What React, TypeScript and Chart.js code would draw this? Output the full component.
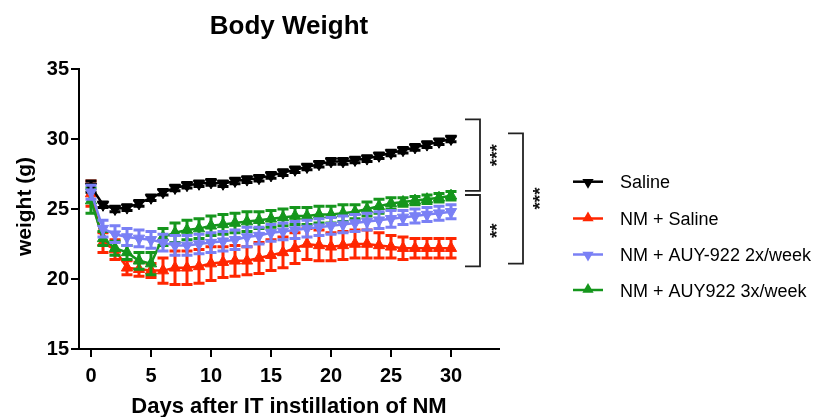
import React, { useEffect, useRef } from 'react';
import { Chart, registerables } from 'chart.js';

Chart.register(...registerables);

// ---------- data ----------
const days = [0, 1, 2, 3, 4, 5, 6, 7, 8, 9, 10, 11, 12, 13, 14, 15, 16, 17, 18, 19, 20, 21, 22, 23, 24, 25, 26, 27, 28, 29, 30];

const seriesLabels = ['Saline', 'NM + Saline', 'NM + AUY-922 2x/week', 'NM + AUY922 3x/week'];

const salineMean = [26.6, 25.3, 25.0, 25.1, 25.4, 25.8, 26.2, 26.5, 26.7, 26.8, 26.9, 26.8, 27.0, 27.1, 27.2, 27.4, 27.6, 27.8, 28.0, 28.2, 28.4, 28.4, 28.5, 28.6, 28.8, 29.0, 29.2, 29.4, 29.6, 29.8, 30.0];
const salineErr = [0.4, 0.2, 0.2, 0.2, 0.2, 0.2, 0.2, 0.2, 0.2, 0.2, 0.2, 0.2, 0.2, 0.2, 0.2, 0.2, 0.2, 0.2, 0.2, 0.2, 0.2, 0.2, 0.2, 0.2, 0.2, 0.2, 0.2, 0.2, 0.2, 0.2, 0.2];

const nmSalineMean = [26.1, 22.6, 22.1, 20.8, 20.7, 20.6, 20.6, 20.8, 20.8, 20.9, 21.1, 21.2, 21.3, 21.3, 21.5, 21.7, 21.9, 22.2, 22.5, 22.4, 22.3, 22.4, 22.5, 22.5, 22.4, 22.3, 22.2, 22.2, 22.2, 22.2, 22.2];
const nmSalineErr = [0.9, 0.7, 0.7, 0.5, 0.5, 0.5, 0.9, 1.2, 1.2, 1.2, 1.2, 1.1, 1.1, 1.0, 1.1, 1.1, 1.1, 1.1, 1.1, 1.1, 1.0, 1.0, 1.0, 1.0, 0.9, 0.8, 0.8, 0.7, 0.7, 0.7, 0.7];

const auy2xMean = [26.2, 23.6, 23.2, 23.0, 22.9, 22.8, 22.6, 22.4, 22.4, 22.5, 22.6, 22.7, 22.8, 23.0, 23.1, 23.3, 23.4, 23.5, 23.6, 23.7, 23.8, 23.9, 24.0, 24.1, 24.2, 24.3, 24.4, 24.5, 24.6, 24.7, 24.8];
const auy2xErr = [0.5, 0.6, 0.6, 0.6, 0.6, 0.6, 0.6, 0.7, 0.7, 0.7, 0.7, 0.7, 0.7, 0.7, 0.6, 0.6, 0.6, 0.6, 0.6, 0.6, 0.6, 0.6, 0.6, 0.6, 0.6, 0.6, 0.5, 0.5, 0.5, 0.5, 0.5];

const auy3xMean = [25.6, 22.9, 22.2, 21.9, 21.3, 21.1, 23.0, 23.3, 23.5, 23.6, 23.8, 23.9, 24.0, 24.1, 24.2, 24.3, 24.4, 24.5, 24.5, 24.6, 24.6, 24.7, 24.8, 25.0, 25.2, 25.4, 25.5, 25.6, 25.7, 25.8, 25.95];
const auy3xErr = [0.9, 0.5, 0.5, 0.5, 0.6, 0.8, 0.6, 0.7, 0.7, 0.7, 0.7, 0.7, 0.7, 0.7, 0.6, 0.6, 0.6, 0.6, 0.6, 0.6, 0.6, 0.6, 0.5, 0.5, 0.5, 0.4, 0.3, 0.3, 0.3, 0.3, 0.3];

const yTicks = [15, 20, 25, 30, 35];
const xTicks = [0, 5, 10, 15, 20, 25, 30];

const titleText = 'Body Weight';
const xTitleText = 'Days after IT instillation of NM';
const yTitleText = 'weight (g)';

// significance brackets: [top value, bottom value]
const bracketSpans = [[31.4, 26.3], [26.0, 20.9], [30.4, 21.1]];
const bracketStars = ['***', '**', '***'];

// ---------- styles ----------
const COLORS = ['#000000', '#ff2600', '#7a80f5', '#15961c'];
const DOWN = [true, false, true, false];
const FONT = '"Liberation Sans", Arial, Helvetica, sans-serif';

function drawTri(ctx: CanvasRenderingContext2D, x: number, y: number, r: number, down: boolean, color: string) {
  ctx.save();
  ctx.fillStyle = color;
  ctx.beginPath();
  const s = down ? -1 : 1;
  ctx.moveTo(x, y - s * r);
  ctx.lineTo(x + r * 0.866, y + s * r * 0.5);
  ctx.lineTo(x - r * 0.866, y + s * r * 0.5);
  ctx.closePath();
  ctx.fill();
  ctx.restore();
}

const overlayPlugin = {
  id: 'overlay',
  beforeDatasetDraw(chart: any, args: any) {
    const ds = chart.data.datasets[args.index];
    const err: number[] = ds.errorBars;
    if (!err) return;
    const ctx = chart.ctx;
    const yScale = chart.scales.y;
    ctx.save();
    ctx.strokeStyle = ds.borderColor;
    ctx.lineWidth = 3;
    args.meta.data.forEach((pt: any, j: number) => {
      const m = ds.data[j].y;
      const e = err[j];
      const yt = yScale.getPixelForValue(m + e);
      const yb = yScale.getPixelForValue(m - e);
      ctx.beginPath();
      ctx.moveTo(pt.x, yt);
      ctx.lineTo(pt.x, yb);
      ctx.moveTo(pt.x - 5.5, yt);
      ctx.lineTo(pt.x + 5.5, yt);
      ctx.moveTo(pt.x - 5.5, yb);
      ctx.lineTo(pt.x + 5.5, yb);
      ctx.stroke();
    });
    ctx.restore();
  },
  afterDraw(chart: any) {
    const ctx: CanvasRenderingContext2D = chart.ctx;
    const yScale = chart.scales.y;
    const xScale = chart.scales.x;
    ctx.save();
    ctx.fillStyle = '#000';
    // title
    ctx.font = `bold 26px ${FONT}`;
    ctx.textAlign = 'center';
    ctx.textBaseline = 'alphabetic';
    ctx.fillText(titleText, xScale.getPixelForValue(16.5), 34);
    // x title
    ctx.font = `bold 22px ${FONT}`;
    ctx.fillText(xTitleText, xScale.getPixelForValue(16.5), 413);
    // y title
    ctx.save();
    ctx.translate(31, 206.5);
    ctx.rotate(-Math.PI / 2);
    ctx.font = `bold 21px ${FONT}`;
    ctx.textAlign = 'center';
    ctx.fillText(yTitleText, 0, 0);
    ctx.restore();

    // brackets
    ctx.strokeStyle = '#222';
    ctx.lineWidth = 1.8;
    const bx = [[465, 480, 492], [465, 480, 492], [508, 523, 535]];
    bracketSpans.forEach((span, i) => {
      const yt = yScale.getPixelForValue(span[0]);
      const yb = yScale.getPixelForValue(span[1]);
      const [x0, x1, xs] = bx[i];
      ctx.beginPath();
      ctx.moveTo(x0, yt);
      ctx.lineTo(x1, yt);
      ctx.lineTo(x1, yb);
      ctx.lineTo(x0, yb);
      ctx.stroke();
      ctx.save();
      ctx.translate(xs, (yt + yb) / 2);
      ctx.rotate(-Math.PI / 2);
      ctx.font = `bold 19px ${FONT}`;
      ctx.fillStyle = '#111';
      ctx.textAlign = 'center';
      ctx.textBaseline = 'alphabetic';
      ctx.fillText(bracketStars[i], 0, 0.575 * 19);
      ctx.restore();
    });

    // legend
    const rowY = [181.7, 218.5, 254.5, 290];
    seriesLabels.forEach((lab, i) => {
      const cy = rowY[i];
      ctx.strokeStyle = COLORS[i];
      ctx.lineWidth = 2.5;
      ctx.beginPath();
      ctx.moveTo(573, cy);
      ctx.lineTo(603, cy);
      ctx.stroke();
      drawTri(ctx, 588, cy + (DOWN[i] ? 0.5 : -0.5), 6.5, DOWN[i], COLORS[i]);
      ctx.font = `18px ${FONT}`;
      ctx.fillStyle = '#000';
      ctx.textAlign = 'left';
      ctx.textBaseline = 'alphabetic';
      ctx.fillText(lab, 620, cy + 6.5);
    });
    ctx.restore();
  },
};

const means = [salineMean, nmSalineMean, auy2xMean, auy3xMean];
const errs = [salineErr, nmSalineErr, auy2xErr, auy3xErr];
const drawOrder = [1, 3, 0, 2];

export default function App() {
  const ref = useRef<HTMLCanvasElement | null>(null);
  useEffect(() => {
    if (!ref.current) return;
    const datasets = seriesLabels.map((label, i) => ({
      label,
      data: days.map((d, j) => ({ x: d, y: means[i][j] })),
      errorBars: errs[i],
      borderColor: COLORS[i],
      backgroundColor: COLORS[i],
      borderWidth: 2.5,
      pointStyle: 'triangle',
      pointRotation: DOWN[i] ? 180 : 0,
      pointRadius: 6.5,
      pointBorderWidth: 1,
      pointBackgroundColor: COLORS[i],
      pointBorderColor: COLORS[i],
      tension: 0,
      order: drawOrder[i],
      clip: false as any,
    }));
    const chart = new Chart(ref.current, {
      type: 'line',
      data: { datasets } as any,
      options: {
        animation: false,
        responsive: false,
        maintainAspectRatio: false,
        layout: { padding: { left: 0, top: 69, right: 319, bottom: 0 } },
        plugins: { legend: { display: false }, title: { display: false }, tooltip: { enabled: false } },
        scales: {
          x: {
            type: 'linear',
            min: -1,
            max: 34,
            afterBuildTicks: (s: any) => {
              s.ticks = xTicks.map((v) => ({ value: v }));
            },
            afterFit: (s: any) => {
              s.height = 68;
            },
            grid: { drawOnChartArea: false, drawTicks: true, tickLength: 8, color: '#000', lineWidth: 2 },
            border: { display: true, color: '#000', width: 2 },
            ticks: { color: '#000', font: { family: FONT, size: 20, weight: 'bold' }, padding: 7, maxRotation: 0 },
          },
          y: {
            type: 'linear',
            min: 15,
            max: 35,
            afterBuildTicks: (s: any) => {
              s.ticks = yTicks.map((v) => ({ value: v }));
            },
            afterFit: (s: any) => {
              s.width = 79;
            },
            grid: { drawOnChartArea: false, drawTicks: true, tickLength: 8, color: '#000', lineWidth: 2 },
            border: { display: true, color: '#000', width: 2 },
            ticks: { color: '#000', font: { family: FONT, size: 20, weight: 'bold' }, padding: 2 },
          },
        },
      } as any,
      plugins: [overlayPlugin as any],
    });
    return () => chart.destroy();
  }, []);
  return (
    <div style={{ position: 'fixed', left: 0, top: 0, width: 818, height: 417, background: '#fff' }}>
      <canvas ref={ref} width={818} height={417} style={{ display: 'block' }} />
    </div>
  );
}
